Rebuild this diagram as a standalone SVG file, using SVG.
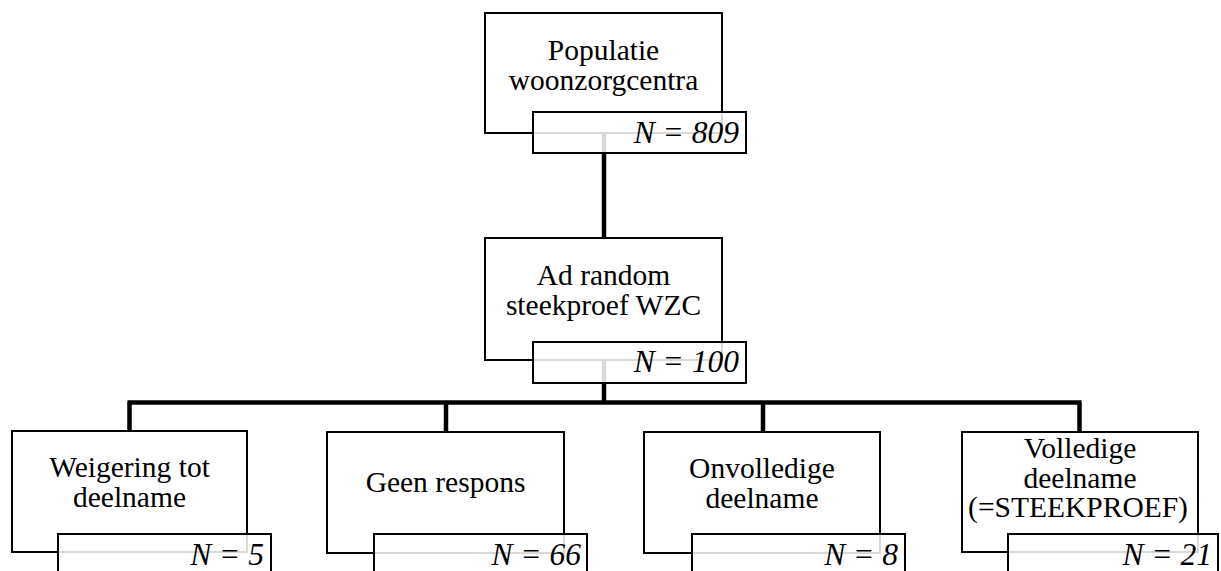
<svg xmlns="http://www.w3.org/2000/svg" width="1221" height="571" viewBox="0 0 1221 571">
<style>
.box{fill:#fff;stroke:#000;stroke-width:2}
.nbox{fill:#fff;fill-opacity:0.85;stroke:#000;stroke-width:2}
.lbl{font-family:"Liberation Serif","Times New Roman",serif;font-size:29.5px;fill:#000;text-anchor:middle}
.n{font-family:"Liberation Serif","Times New Roman",serif;font-size:31.5px;font-style:italic;fill:#000;text-anchor:end}
.con{fill:none;stroke:#000;stroke-width:4.5}
</style>
<rect x="0" y="0" width="1221" height="571" fill="#fff"/>
<g id="connectors">
<line class="con" x1="604" y1="133" x2="604" y2="238"/>
<line class="con" x1="604" y1="360" x2="604" y2="402.5"/>
<line class="con" x1="127.5" y1="402.5" x2="1081.5" y2="402.5"/>
<line class="con" x1="129.5" y1="402.5" x2="129.5" y2="431"/>
<line class="con" x1="446" y1="402.5" x2="446" y2="432"/>
<line class="con" x1="763" y1="402.5" x2="763" y2="432"/>
<line class="con" x1="1079.5" y1="402.5" x2="1079.5" y2="432"/>
</g>
<g id="populatie">
<rect class="box" x="485" y="13" width="237" height="120"/>
<text class="lbl" x="603.5" y="60">Populatie</text>
<text class="lbl" x="603.5" y="90">woonzorgcentra</text>
<rect class="nbox" x="533" y="112" width="213" height="41"/>
<text class="n" x="739" y="143">N = 809</text>
</g>
<g id="steekproef">
<rect class="box" x="485" y="238" width="237" height="122"/>
<text class="lbl" x="603.5" y="285">Ad random</text>
<text class="lbl" x="603.5" y="315">steekproef WZC</text>
<rect class="nbox" x="533" y="342" width="213" height="41"/>
<text class="n" x="739" y="372">N = 100</text>
</g>
<g id="weigering">
<rect class="box" x="12" y="431" width="235" height="121"/>
<text class="lbl" x="129.5" y="477">Weigering tot</text>
<text class="lbl" x="129.5" y="507">deelname</text>
<rect class="nbox" x="58" y="534" width="213" height="45"/>
<text class="n" x="264" y="565">N = 5</text>
</g>
<g id="geenrespons">
<rect class="box" x="327" y="432" width="237" height="121"/>
<text class="lbl" x="445.5" y="492">Geen respons</text>
<rect class="nbox" x="374" y="534" width="213" height="45"/>
<text class="n" x="581" y="565">N = 66</text>
</g>
<g id="onvolledig">
<rect class="box" x="644" y="432" width="236" height="121"/>
<text class="lbl" x="762" y="478">Onvolledige</text>
<text class="lbl" x="762" y="508">deelname</text>
<rect class="nbox" x="692" y="534" width="213" height="45"/>
<text class="n" x="898" y="565">N = 8</text>
</g>
<g id="volledig">
<rect class="box" x="962" y="432" width="236" height="120"/>
<text class="lbl" x="1080" y="458">Volledige</text>
<text class="lbl" x="1080" y="487.5">deelname</text>
<text class="lbl" x="1078" y="517">(=STEEKPROEF)</text>
<rect class="nbox" x="1008" y="534" width="210" height="45"/>
<text class="n" x="1212" y="565">N = 21</text>
</g>
</svg>
